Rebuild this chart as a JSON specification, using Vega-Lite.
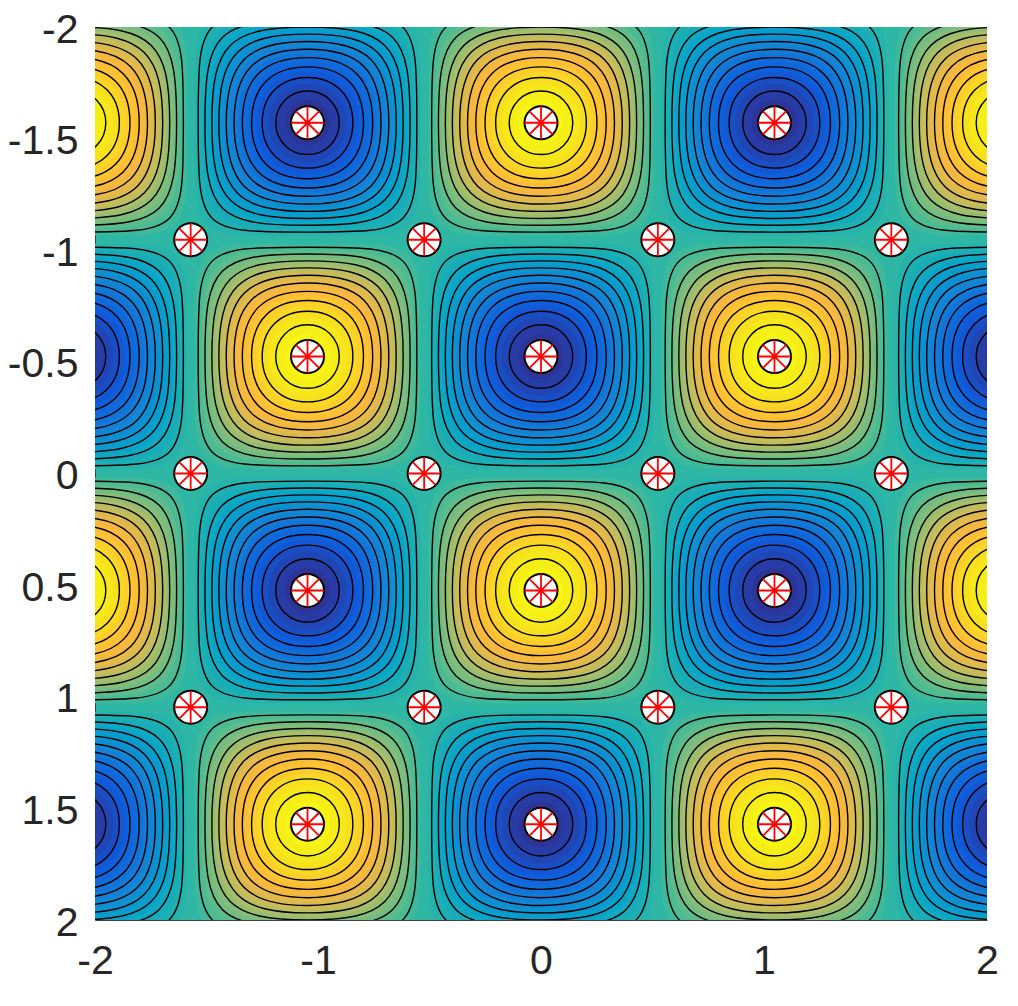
{"$schema":"https://vega.github.io/schema/vega-lite/v6.json","autosize":{"type":"none"},"padding":{"left":95,"top":27,"right":31,"bottom":86},"width":892,"height":893,"background":"white","view":{"fill":"#2eb7a4","stroke":null},"datasets":{"pts":[{"x":-1.047,"y":-1.571},{"x":0,"y":-1.571},{"x":1.047,"y":-1.571},{"x":-1.047,"y":-0.524},{"x":0,"y":-0.524},{"x":1.047,"y":-0.524},{"x":-1.047,"y":0.524},{"x":0,"y":0.524},{"x":1.047,"y":0.524},{"x":-1.047,"y":1.571},{"x":0,"y":1.571},{"x":1.047,"y":1.571},{"x":-1.571,"y":-1.047},{"x":-0.524,"y":-1.047},{"x":0.524,"y":-1.047},{"x":1.571,"y":-1.047},{"x":-1.571,"y":0},{"x":-0.524,"y":0},{"x":0.524,"y":0},{"x":1.571,"y":0},{"x":-1.571,"y":1.047},{"x":-0.524,"y":1.047},{"x":0.524,"y":1.047},{"x":1.571,"y":1.047}]},"data":{"values":[
{"x":-2.094,"y":-1.571,"z":0.055,"l":0.055},{"x":-2.094,"y":-1.571,"z":0.1,"l":0.1},{"x":-2.094,"y":-1.571,"z":0.145,"l":0.145},{"x":-2.094,"y":-1.571,"z":0.19,"l":0.19},{"x":-2.094,"y":-1.571,"z":0.235,"l":0.235},{"x":-2.094,"y":-1.571,"z":0.28,"l":0.28},{"x":-2.094,"y":-1.571,"z":0.325,"l":0.325},{"x":-2.094,"y":-1.571,"z":0.37,"l":0.37},{"x":-2.094,"y":-1.571,"z":0.415,"l":0.415},{"x":-2.094,"y":-1.571,"z":0.46,"l":0.46},{"x":-2.094,"y":-1.571,"z":0.505,"l":0.505},{"x":-2.094,"y":-1.571,"z":0.55,"l":0.55},{"x":-2.094,"y":-1.571,"z":0.595,"l":0.595},{"x":-2.094,"y":-1.571,"z":0.64,"l":0.64},{"x":-2.094,"y":-1.571,"z":0.685,"l":0.685},{"x":-2.094,"y":-1.571,"z":0.73,"l":0.73},{"x":-2.094,"y":-1.571,"z":0.775,"l":0.775},{"x":-2.094,"y":-1.571,"z":0.82,"l":0.82},{"x":-2.094,"y":-1.571,"z":0.865,"l":0.865},{"x":-2.094,"y":-1.571,"z":0.91,"l":0.91},{"x":-2.094,"y":-1.571,"z":0.955,"l":0.955},
{"x":-1.047,"y":-1.571,"z":-0.055,"l":0.055},{"x":-1.047,"y":-1.571,"z":-0.1,"l":0.1},{"x":-1.047,"y":-1.571,"z":-0.145,"l":0.145},{"x":-1.047,"y":-1.571,"z":-0.19,"l":0.19},{"x":-1.047,"y":-1.571,"z":-0.235,"l":0.235},{"x":-1.047,"y":-1.571,"z":-0.28,"l":0.28},{"x":-1.047,"y":-1.571,"z":-0.325,"l":0.325},{"x":-1.047,"y":-1.571,"z":-0.37,"l":0.37},{"x":-1.047,"y":-1.571,"z":-0.415,"l":0.415},{"x":-1.047,"y":-1.571,"z":-0.46,"l":0.46},{"x":-1.047,"y":-1.571,"z":-0.505,"l":0.505},{"x":-1.047,"y":-1.571,"z":-0.55,"l":0.55},{"x":-1.047,"y":-1.571,"z":-0.595,"l":0.595},{"x":-1.047,"y":-1.571,"z":-0.64,"l":0.64},{"x":-1.047,"y":-1.571,"z":-0.685,"l":0.685},{"x":-1.047,"y":-1.571,"z":-0.73,"l":0.73},{"x":-1.047,"y":-1.571,"z":-0.775,"l":0.775},{"x":-1.047,"y":-1.571,"z":-0.82,"l":0.82},{"x":-1.047,"y":-1.571,"z":-0.865,"l":0.865},{"x":-1.047,"y":-1.571,"z":-0.91,"l":0.91},{"x":-1.047,"y":-1.571,"z":-0.955,"l":0.955},
{"x":0,"y":-1.571,"z":0.055,"l":0.055},{"x":0,"y":-1.571,"z":0.1,"l":0.1},{"x":0,"y":-1.571,"z":0.145,"l":0.145},{"x":0,"y":-1.571,"z":0.19,"l":0.19},{"x":0,"y":-1.571,"z":0.235,"l":0.235},{"x":0,"y":-1.571,"z":0.28,"l":0.28},{"x":0,"y":-1.571,"z":0.325,"l":0.325},{"x":0,"y":-1.571,"z":0.37,"l":0.37},{"x":0,"y":-1.571,"z":0.415,"l":0.415},{"x":0,"y":-1.571,"z":0.46,"l":0.46},{"x":0,"y":-1.571,"z":0.505,"l":0.505},{"x":0,"y":-1.571,"z":0.55,"l":0.55},{"x":0,"y":-1.571,"z":0.595,"l":0.595},{"x":0,"y":-1.571,"z":0.64,"l":0.64},{"x":0,"y":-1.571,"z":0.685,"l":0.685},{"x":0,"y":-1.571,"z":0.73,"l":0.73},{"x":0,"y":-1.571,"z":0.775,"l":0.775},{"x":0,"y":-1.571,"z":0.82,"l":0.82},{"x":0,"y":-1.571,"z":0.865,"l":0.865},{"x":0,"y":-1.571,"z":0.91,"l":0.91},{"x":0,"y":-1.571,"z":0.955,"l":0.955},
{"x":1.047,"y":-1.571,"z":-0.055,"l":0.055},{"x":1.047,"y":-1.571,"z":-0.1,"l":0.1},{"x":1.047,"y":-1.571,"z":-0.145,"l":0.145},{"x":1.047,"y":-1.571,"z":-0.19,"l":0.19},{"x":1.047,"y":-1.571,"z":-0.235,"l":0.235},{"x":1.047,"y":-1.571,"z":-0.28,"l":0.28},{"x":1.047,"y":-1.571,"z":-0.325,"l":0.325},{"x":1.047,"y":-1.571,"z":-0.37,"l":0.37},{"x":1.047,"y":-1.571,"z":-0.415,"l":0.415},{"x":1.047,"y":-1.571,"z":-0.46,"l":0.46},{"x":1.047,"y":-1.571,"z":-0.505,"l":0.505},{"x":1.047,"y":-1.571,"z":-0.55,"l":0.55},{"x":1.047,"y":-1.571,"z":-0.595,"l":0.595},{"x":1.047,"y":-1.571,"z":-0.64,"l":0.64},{"x":1.047,"y":-1.571,"z":-0.685,"l":0.685},{"x":1.047,"y":-1.571,"z":-0.73,"l":0.73},{"x":1.047,"y":-1.571,"z":-0.775,"l":0.775},{"x":1.047,"y":-1.571,"z":-0.82,"l":0.82},{"x":1.047,"y":-1.571,"z":-0.865,"l":0.865},{"x":1.047,"y":-1.571,"z":-0.91,"l":0.91},{"x":1.047,"y":-1.571,"z":-0.955,"l":0.955},
{"x":2.094,"y":-1.571,"z":0.055,"l":0.055},{"x":2.094,"y":-1.571,"z":0.1,"l":0.1},{"x":2.094,"y":-1.571,"z":0.145,"l":0.145},{"x":2.094,"y":-1.571,"z":0.19,"l":0.19},{"x":2.094,"y":-1.571,"z":0.235,"l":0.235},{"x":2.094,"y":-1.571,"z":0.28,"l":0.28},{"x":2.094,"y":-1.571,"z":0.325,"l":0.325},{"x":2.094,"y":-1.571,"z":0.37,"l":0.37},{"x":2.094,"y":-1.571,"z":0.415,"l":0.415},{"x":2.094,"y":-1.571,"z":0.46,"l":0.46},{"x":2.094,"y":-1.571,"z":0.505,"l":0.505},{"x":2.094,"y":-1.571,"z":0.55,"l":0.55},{"x":2.094,"y":-1.571,"z":0.595,"l":0.595},{"x":2.094,"y":-1.571,"z":0.64,"l":0.64},{"x":2.094,"y":-1.571,"z":0.685,"l":0.685},{"x":2.094,"y":-1.571,"z":0.73,"l":0.73},{"x":2.094,"y":-1.571,"z":0.775,"l":0.775},{"x":2.094,"y":-1.571,"z":0.82,"l":0.82},{"x":2.094,"y":-1.571,"z":0.865,"l":0.865},{"x":2.094,"y":-1.571,"z":0.91,"l":0.91},{"x":2.094,"y":-1.571,"z":0.955,"l":0.955},
{"x":-2.094,"y":-0.524,"z":-0.055,"l":0.055},{"x":-2.094,"y":-0.524,"z":-0.1,"l":0.1},{"x":-2.094,"y":-0.524,"z":-0.145,"l":0.145},{"x":-2.094,"y":-0.524,"z":-0.19,"l":0.19},{"x":-2.094,"y":-0.524,"z":-0.235,"l":0.235},{"x":-2.094,"y":-0.524,"z":-0.28,"l":0.28},{"x":-2.094,"y":-0.524,"z":-0.325,"l":0.325},{"x":-2.094,"y":-0.524,"z":-0.37,"l":0.37},{"x":-2.094,"y":-0.524,"z":-0.415,"l":0.415},{"x":-2.094,"y":-0.524,"z":-0.46,"l":0.46},{"x":-2.094,"y":-0.524,"z":-0.505,"l":0.505},{"x":-2.094,"y":-0.524,"z":-0.55,"l":0.55},{"x":-2.094,"y":-0.524,"z":-0.595,"l":0.595},{"x":-2.094,"y":-0.524,"z":-0.64,"l":0.64},{"x":-2.094,"y":-0.524,"z":-0.685,"l":0.685},{"x":-2.094,"y":-0.524,"z":-0.73,"l":0.73},{"x":-2.094,"y":-0.524,"z":-0.775,"l":0.775},{"x":-2.094,"y":-0.524,"z":-0.82,"l":0.82},{"x":-2.094,"y":-0.524,"z":-0.865,"l":0.865},{"x":-2.094,"y":-0.524,"z":-0.91,"l":0.91},{"x":-2.094,"y":-0.524,"z":-0.955,"l":0.955},
{"x":-1.047,"y":-0.524,"z":0.055,"l":0.055},{"x":-1.047,"y":-0.524,"z":0.1,"l":0.1},{"x":-1.047,"y":-0.524,"z":0.145,"l":0.145},{"x":-1.047,"y":-0.524,"z":0.19,"l":0.19},{"x":-1.047,"y":-0.524,"z":0.235,"l":0.235},{"x":-1.047,"y":-0.524,"z":0.28,"l":0.28},{"x":-1.047,"y":-0.524,"z":0.325,"l":0.325},{"x":-1.047,"y":-0.524,"z":0.37,"l":0.37},{"x":-1.047,"y":-0.524,"z":0.415,"l":0.415},{"x":-1.047,"y":-0.524,"z":0.46,"l":0.46},{"x":-1.047,"y":-0.524,"z":0.505,"l":0.505},{"x":-1.047,"y":-0.524,"z":0.55,"l":0.55},{"x":-1.047,"y":-0.524,"z":0.595,"l":0.595},{"x":-1.047,"y":-0.524,"z":0.64,"l":0.64},{"x":-1.047,"y":-0.524,"z":0.685,"l":0.685},{"x":-1.047,"y":-0.524,"z":0.73,"l":0.73},{"x":-1.047,"y":-0.524,"z":0.775,"l":0.775},{"x":-1.047,"y":-0.524,"z":0.82,"l":0.82},{"x":-1.047,"y":-0.524,"z":0.865,"l":0.865},{"x":-1.047,"y":-0.524,"z":0.91,"l":0.91},{"x":-1.047,"y":-0.524,"z":0.955,"l":0.955},
{"x":0,"y":-0.524,"z":-0.055,"l":0.055},{"x":0,"y":-0.524,"z":-0.1,"l":0.1},{"x":0,"y":-0.524,"z":-0.145,"l":0.145},{"x":0,"y":-0.524,"z":-0.19,"l":0.19},{"x":0,"y":-0.524,"z":-0.235,"l":0.235},{"x":0,"y":-0.524,"z":-0.28,"l":0.28},{"x":0,"y":-0.524,"z":-0.325,"l":0.325},{"x":0,"y":-0.524,"z":-0.37,"l":0.37},{"x":0,"y":-0.524,"z":-0.415,"l":0.415},{"x":0,"y":-0.524,"z":-0.46,"l":0.46},{"x":0,"y":-0.524,"z":-0.505,"l":0.505},{"x":0,"y":-0.524,"z":-0.55,"l":0.55},{"x":0,"y":-0.524,"z":-0.595,"l":0.595},{"x":0,"y":-0.524,"z":-0.64,"l":0.64},{"x":0,"y":-0.524,"z":-0.685,"l":0.685},{"x":0,"y":-0.524,"z":-0.73,"l":0.73},{"x":0,"y":-0.524,"z":-0.775,"l":0.775},{"x":0,"y":-0.524,"z":-0.82,"l":0.82},{"x":0,"y":-0.524,"z":-0.865,"l":0.865},{"x":0,"y":-0.524,"z":-0.91,"l":0.91},{"x":0,"y":-0.524,"z":-0.955,"l":0.955},
{"x":1.047,"y":-0.524,"z":0.055,"l":0.055},{"x":1.047,"y":-0.524,"z":0.1,"l":0.1},{"x":1.047,"y":-0.524,"z":0.145,"l":0.145},{"x":1.047,"y":-0.524,"z":0.19,"l":0.19},{"x":1.047,"y":-0.524,"z":0.235,"l":0.235},{"x":1.047,"y":-0.524,"z":0.28,"l":0.28},{"x":1.047,"y":-0.524,"z":0.325,"l":0.325},{"x":1.047,"y":-0.524,"z":0.37,"l":0.37},{"x":1.047,"y":-0.524,"z":0.415,"l":0.415},{"x":1.047,"y":-0.524,"z":0.46,"l":0.46},{"x":1.047,"y":-0.524,"z":0.505,"l":0.505},{"x":1.047,"y":-0.524,"z":0.55,"l":0.55},{"x":1.047,"y":-0.524,"z":0.595,"l":0.595},{"x":1.047,"y":-0.524,"z":0.64,"l":0.64},{"x":1.047,"y":-0.524,"z":0.685,"l":0.685},{"x":1.047,"y":-0.524,"z":0.73,"l":0.73},{"x":1.047,"y":-0.524,"z":0.775,"l":0.775},{"x":1.047,"y":-0.524,"z":0.82,"l":0.82},{"x":1.047,"y":-0.524,"z":0.865,"l":0.865},{"x":1.047,"y":-0.524,"z":0.91,"l":0.91},{"x":1.047,"y":-0.524,"z":0.955,"l":0.955},
{"x":2.094,"y":-0.524,"z":-0.055,"l":0.055},{"x":2.094,"y":-0.524,"z":-0.1,"l":0.1},{"x":2.094,"y":-0.524,"z":-0.145,"l":0.145},{"x":2.094,"y":-0.524,"z":-0.19,"l":0.19},{"x":2.094,"y":-0.524,"z":-0.235,"l":0.235},{"x":2.094,"y":-0.524,"z":-0.28,"l":0.28},{"x":2.094,"y":-0.524,"z":-0.325,"l":0.325},{"x":2.094,"y":-0.524,"z":-0.37,"l":0.37},{"x":2.094,"y":-0.524,"z":-0.415,"l":0.415},{"x":2.094,"y":-0.524,"z":-0.46,"l":0.46},{"x":2.094,"y":-0.524,"z":-0.505,"l":0.505},{"x":2.094,"y":-0.524,"z":-0.55,"l":0.55},{"x":2.094,"y":-0.524,"z":-0.595,"l":0.595},{"x":2.094,"y":-0.524,"z":-0.64,"l":0.64},{"x":2.094,"y":-0.524,"z":-0.685,"l":0.685},{"x":2.094,"y":-0.524,"z":-0.73,"l":0.73},{"x":2.094,"y":-0.524,"z":-0.775,"l":0.775},{"x":2.094,"y":-0.524,"z":-0.82,"l":0.82},{"x":2.094,"y":-0.524,"z":-0.865,"l":0.865},{"x":2.094,"y":-0.524,"z":-0.91,"l":0.91},{"x":2.094,"y":-0.524,"z":-0.955,"l":0.955},
{"x":-2.094,"y":0.524,"z":0.055,"l":0.055},{"x":-2.094,"y":0.524,"z":0.1,"l":0.1},{"x":-2.094,"y":0.524,"z":0.145,"l":0.145},{"x":-2.094,"y":0.524,"z":0.19,"l":0.19},{"x":-2.094,"y":0.524,"z":0.235,"l":0.235},{"x":-2.094,"y":0.524,"z":0.28,"l":0.28},{"x":-2.094,"y":0.524,"z":0.325,"l":0.325},{"x":-2.094,"y":0.524,"z":0.37,"l":0.37},{"x":-2.094,"y":0.524,"z":0.415,"l":0.415},{"x":-2.094,"y":0.524,"z":0.46,"l":0.46},{"x":-2.094,"y":0.524,"z":0.505,"l":0.505},{"x":-2.094,"y":0.524,"z":0.55,"l":0.55},{"x":-2.094,"y":0.524,"z":0.595,"l":0.595},{"x":-2.094,"y":0.524,"z":0.64,"l":0.64},{"x":-2.094,"y":0.524,"z":0.685,"l":0.685},{"x":-2.094,"y":0.524,"z":0.73,"l":0.73},{"x":-2.094,"y":0.524,"z":0.775,"l":0.775},{"x":-2.094,"y":0.524,"z":0.82,"l":0.82},{"x":-2.094,"y":0.524,"z":0.865,"l":0.865},{"x":-2.094,"y":0.524,"z":0.91,"l":0.91},{"x":-2.094,"y":0.524,"z":0.955,"l":0.955},
{"x":-1.047,"y":0.524,"z":-0.055,"l":0.055},{"x":-1.047,"y":0.524,"z":-0.1,"l":0.1},{"x":-1.047,"y":0.524,"z":-0.145,"l":0.145},{"x":-1.047,"y":0.524,"z":-0.19,"l":0.19},{"x":-1.047,"y":0.524,"z":-0.235,"l":0.235},{"x":-1.047,"y":0.524,"z":-0.28,"l":0.28},{"x":-1.047,"y":0.524,"z":-0.325,"l":0.325},{"x":-1.047,"y":0.524,"z":-0.37,"l":0.37},{"x":-1.047,"y":0.524,"z":-0.415,"l":0.415},{"x":-1.047,"y":0.524,"z":-0.46,"l":0.46},{"x":-1.047,"y":0.524,"z":-0.505,"l":0.505},{"x":-1.047,"y":0.524,"z":-0.55,"l":0.55},{"x":-1.047,"y":0.524,"z":-0.595,"l":0.595},{"x":-1.047,"y":0.524,"z":-0.64,"l":0.64},{"x":-1.047,"y":0.524,"z":-0.685,"l":0.685},{"x":-1.047,"y":0.524,"z":-0.73,"l":0.73},{"x":-1.047,"y":0.524,"z":-0.775,"l":0.775},{"x":-1.047,"y":0.524,"z":-0.82,"l":0.82},{"x":-1.047,"y":0.524,"z":-0.865,"l":0.865},{"x":-1.047,"y":0.524,"z":-0.91,"l":0.91},{"x":-1.047,"y":0.524,"z":-0.955,"l":0.955},
{"x":0,"y":0.524,"z":0.055,"l":0.055},{"x":0,"y":0.524,"z":0.1,"l":0.1},{"x":0,"y":0.524,"z":0.145,"l":0.145},{"x":0,"y":0.524,"z":0.19,"l":0.19},{"x":0,"y":0.524,"z":0.235,"l":0.235},{"x":0,"y":0.524,"z":0.28,"l":0.28},{"x":0,"y":0.524,"z":0.325,"l":0.325},{"x":0,"y":0.524,"z":0.37,"l":0.37},{"x":0,"y":0.524,"z":0.415,"l":0.415},{"x":0,"y":0.524,"z":0.46,"l":0.46},{"x":0,"y":0.524,"z":0.505,"l":0.505},{"x":0,"y":0.524,"z":0.55,"l":0.55},{"x":0,"y":0.524,"z":0.595,"l":0.595},{"x":0,"y":0.524,"z":0.64,"l":0.64},{"x":0,"y":0.524,"z":0.685,"l":0.685},{"x":0,"y":0.524,"z":0.73,"l":0.73},{"x":0,"y":0.524,"z":0.775,"l":0.775},{"x":0,"y":0.524,"z":0.82,"l":0.82},{"x":0,"y":0.524,"z":0.865,"l":0.865},{"x":0,"y":0.524,"z":0.91,"l":0.91},{"x":0,"y":0.524,"z":0.955,"l":0.955},
{"x":1.047,"y":0.524,"z":-0.055,"l":0.055},{"x":1.047,"y":0.524,"z":-0.1,"l":0.1},{"x":1.047,"y":0.524,"z":-0.145,"l":0.145},{"x":1.047,"y":0.524,"z":-0.19,"l":0.19},{"x":1.047,"y":0.524,"z":-0.235,"l":0.235},{"x":1.047,"y":0.524,"z":-0.28,"l":0.28},{"x":1.047,"y":0.524,"z":-0.325,"l":0.325},{"x":1.047,"y":0.524,"z":-0.37,"l":0.37},{"x":1.047,"y":0.524,"z":-0.415,"l":0.415},{"x":1.047,"y":0.524,"z":-0.46,"l":0.46},{"x":1.047,"y":0.524,"z":-0.505,"l":0.505},{"x":1.047,"y":0.524,"z":-0.55,"l":0.55},{"x":1.047,"y":0.524,"z":-0.595,"l":0.595},{"x":1.047,"y":0.524,"z":-0.64,"l":0.64},{"x":1.047,"y":0.524,"z":-0.685,"l":0.685},{"x":1.047,"y":0.524,"z":-0.73,"l":0.73},{"x":1.047,"y":0.524,"z":-0.775,"l":0.775},{"x":1.047,"y":0.524,"z":-0.82,"l":0.82},{"x":1.047,"y":0.524,"z":-0.865,"l":0.865},{"x":1.047,"y":0.524,"z":-0.91,"l":0.91},{"x":1.047,"y":0.524,"z":-0.955,"l":0.955},
{"x":2.094,"y":0.524,"z":0.055,"l":0.055},{"x":2.094,"y":0.524,"z":0.1,"l":0.1},{"x":2.094,"y":0.524,"z":0.145,"l":0.145},{"x":2.094,"y":0.524,"z":0.19,"l":0.19},{"x":2.094,"y":0.524,"z":0.235,"l":0.235},{"x":2.094,"y":0.524,"z":0.28,"l":0.28},{"x":2.094,"y":0.524,"z":0.325,"l":0.325},{"x":2.094,"y":0.524,"z":0.37,"l":0.37},{"x":2.094,"y":0.524,"z":0.415,"l":0.415},{"x":2.094,"y":0.524,"z":0.46,"l":0.46},{"x":2.094,"y":0.524,"z":0.505,"l":0.505},{"x":2.094,"y":0.524,"z":0.55,"l":0.55},{"x":2.094,"y":0.524,"z":0.595,"l":0.595},{"x":2.094,"y":0.524,"z":0.64,"l":0.64},{"x":2.094,"y":0.524,"z":0.685,"l":0.685},{"x":2.094,"y":0.524,"z":0.73,"l":0.73},{"x":2.094,"y":0.524,"z":0.775,"l":0.775},{"x":2.094,"y":0.524,"z":0.82,"l":0.82},{"x":2.094,"y":0.524,"z":0.865,"l":0.865},{"x":2.094,"y":0.524,"z":0.91,"l":0.91},{"x":2.094,"y":0.524,"z":0.955,"l":0.955},
{"x":-2.094,"y":1.571,"z":-0.055,"l":0.055},{"x":-2.094,"y":1.571,"z":-0.1,"l":0.1},{"x":-2.094,"y":1.571,"z":-0.145,"l":0.145},{"x":-2.094,"y":1.571,"z":-0.19,"l":0.19},{"x":-2.094,"y":1.571,"z":-0.235,"l":0.235},{"x":-2.094,"y":1.571,"z":-0.28,"l":0.28},{"x":-2.094,"y":1.571,"z":-0.325,"l":0.325},{"x":-2.094,"y":1.571,"z":-0.37,"l":0.37},{"x":-2.094,"y":1.571,"z":-0.415,"l":0.415},{"x":-2.094,"y":1.571,"z":-0.46,"l":0.46},{"x":-2.094,"y":1.571,"z":-0.505,"l":0.505},{"x":-2.094,"y":1.571,"z":-0.55,"l":0.55},{"x":-2.094,"y":1.571,"z":-0.595,"l":0.595},{"x":-2.094,"y":1.571,"z":-0.64,"l":0.64},{"x":-2.094,"y":1.571,"z":-0.685,"l":0.685},{"x":-2.094,"y":1.571,"z":-0.73,"l":0.73},{"x":-2.094,"y":1.571,"z":-0.775,"l":0.775},{"x":-2.094,"y":1.571,"z":-0.82,"l":0.82},{"x":-2.094,"y":1.571,"z":-0.865,"l":0.865},{"x":-2.094,"y":1.571,"z":-0.91,"l":0.91},{"x":-2.094,"y":1.571,"z":-0.955,"l":0.955},
{"x":-1.047,"y":1.571,"z":0.055,"l":0.055},{"x":-1.047,"y":1.571,"z":0.1,"l":0.1},{"x":-1.047,"y":1.571,"z":0.145,"l":0.145},{"x":-1.047,"y":1.571,"z":0.19,"l":0.19},{"x":-1.047,"y":1.571,"z":0.235,"l":0.235},{"x":-1.047,"y":1.571,"z":0.28,"l":0.28},{"x":-1.047,"y":1.571,"z":0.325,"l":0.325},{"x":-1.047,"y":1.571,"z":0.37,"l":0.37},{"x":-1.047,"y":1.571,"z":0.415,"l":0.415},{"x":-1.047,"y":1.571,"z":0.46,"l":0.46},{"x":-1.047,"y":1.571,"z":0.505,"l":0.505},{"x":-1.047,"y":1.571,"z":0.55,"l":0.55},{"x":-1.047,"y":1.571,"z":0.595,"l":0.595},{"x":-1.047,"y":1.571,"z":0.64,"l":0.64},{"x":-1.047,"y":1.571,"z":0.685,"l":0.685},{"x":-1.047,"y":1.571,"z":0.73,"l":0.73},{"x":-1.047,"y":1.571,"z":0.775,"l":0.775},{"x":-1.047,"y":1.571,"z":0.82,"l":0.82},{"x":-1.047,"y":1.571,"z":0.865,"l":0.865},{"x":-1.047,"y":1.571,"z":0.91,"l":0.91},{"x":-1.047,"y":1.571,"z":0.955,"l":0.955},
{"x":0,"y":1.571,"z":-0.055,"l":0.055},{"x":0,"y":1.571,"z":-0.1,"l":0.1},{"x":0,"y":1.571,"z":-0.145,"l":0.145},{"x":0,"y":1.571,"z":-0.19,"l":0.19},{"x":0,"y":1.571,"z":-0.235,"l":0.235},{"x":0,"y":1.571,"z":-0.28,"l":0.28},{"x":0,"y":1.571,"z":-0.325,"l":0.325},{"x":0,"y":1.571,"z":-0.37,"l":0.37},{"x":0,"y":1.571,"z":-0.415,"l":0.415},{"x":0,"y":1.571,"z":-0.46,"l":0.46},{"x":0,"y":1.571,"z":-0.505,"l":0.505},{"x":0,"y":1.571,"z":-0.55,"l":0.55},{"x":0,"y":1.571,"z":-0.595,"l":0.595},{"x":0,"y":1.571,"z":-0.64,"l":0.64},{"x":0,"y":1.571,"z":-0.685,"l":0.685},{"x":0,"y":1.571,"z":-0.73,"l":0.73},{"x":0,"y":1.571,"z":-0.775,"l":0.775},{"x":0,"y":1.571,"z":-0.82,"l":0.82},{"x":0,"y":1.571,"z":-0.865,"l":0.865},{"x":0,"y":1.571,"z":-0.91,"l":0.91},{"x":0,"y":1.571,"z":-0.955,"l":0.955},
{"x":1.047,"y":1.571,"z":0.055,"l":0.055},{"x":1.047,"y":1.571,"z":0.1,"l":0.1},{"x":1.047,"y":1.571,"z":0.145,"l":0.145},{"x":1.047,"y":1.571,"z":0.19,"l":0.19},{"x":1.047,"y":1.571,"z":0.235,"l":0.235},{"x":1.047,"y":1.571,"z":0.28,"l":0.28},{"x":1.047,"y":1.571,"z":0.325,"l":0.325},{"x":1.047,"y":1.571,"z":0.37,"l":0.37},{"x":1.047,"y":1.571,"z":0.415,"l":0.415},{"x":1.047,"y":1.571,"z":0.46,"l":0.46},{"x":1.047,"y":1.571,"z":0.505,"l":0.505},{"x":1.047,"y":1.571,"z":0.55,"l":0.55},{"x":1.047,"y":1.571,"z":0.595,"l":0.595},{"x":1.047,"y":1.571,"z":0.64,"l":0.64},{"x":1.047,"y":1.571,"z":0.685,"l":0.685},{"x":1.047,"y":1.571,"z":0.73,"l":0.73},{"x":1.047,"y":1.571,"z":0.775,"l":0.775},{"x":1.047,"y":1.571,"z":0.82,"l":0.82},{"x":1.047,"y":1.571,"z":0.865,"l":0.865},{"x":1.047,"y":1.571,"z":0.91,"l":0.91},{"x":1.047,"y":1.571,"z":0.955,"l":0.955},
{"x":2.094,"y":1.571,"z":-0.055,"l":0.055},{"x":2.094,"y":1.571,"z":-0.1,"l":0.1},{"x":2.094,"y":1.571,"z":-0.145,"l":0.145},{"x":2.094,"y":1.571,"z":-0.19,"l":0.19},{"x":2.094,"y":1.571,"z":-0.235,"l":0.235},{"x":2.094,"y":1.571,"z":-0.28,"l":0.28},{"x":2.094,"y":1.571,"z":-0.325,"l":0.325},{"x":2.094,"y":1.571,"z":-0.37,"l":0.37},{"x":2.094,"y":1.571,"z":-0.415,"l":0.415},{"x":2.094,"y":1.571,"z":-0.46,"l":0.46},{"x":2.094,"y":1.571,"z":-0.505,"l":0.505},{"x":2.094,"y":1.571,"z":-0.55,"l":0.55},{"x":2.094,"y":1.571,"z":-0.595,"l":0.595},{"x":2.094,"y":1.571,"z":-0.64,"l":0.64},{"x":2.094,"y":1.571,"z":-0.685,"l":0.685},{"x":2.094,"y":1.571,"z":-0.73,"l":0.73},{"x":2.094,"y":1.571,"z":-0.775,"l":0.775},{"x":2.094,"y":1.571,"z":-0.82,"l":0.82},{"x":2.094,"y":1.571,"z":-0.865,"l":0.865},{"x":2.094,"y":1.571,"z":-0.91,"l":0.91},{"x":2.094,"y":1.571,"z":-0.955,"l":0.955}
]},"encoding":{"x":{"field":"x","type":"quantitative","title":null,"scale":{"domain":[-2,2],"nice":false,"zero":false},"axis":{"orient":"bottom","values":[-2,-1,0,1,2],"grid":false,"ticks":false,"domain":true,"domainColor":"#404040","domainWidth":1,"labelFont":"Liberation Sans","labelFontSize":41,"labelColor":"#262626","labelPadding":21,"labelExpr":"''+datum.value","labelFlush":false,"labelOverlap":false,"labelBound":false}},"y":{"field":"y","type":"quantitative","title":null,"scale":{"domain":[-2,2],"reverse":true,"nice":false,"zero":false},"axis":{"orient":"left","values":[-2,-1.5,-1,-0.5,0,0.5,1,1.5,2],"grid":false,"ticks":false,"domain":true,"domainColor":"#404040","domainWidth":1,"labelFont":"Liberation Sans","labelFontSize":41,"labelColor":"#262626","labelPadding":17,"labelOffset":3,"labelExpr":"''+datum.value","labelFlush":false,"labelOverlap":false,"labelBound":false}},"shape":{"field":"l","type":"ordinal","legend":null,"scale":{"domain":[0.055,0.1,0.145,0.19,0.235,0.28,0.325,0.37,0.415,0.46,0.505,0.55,0.595,0.64,0.685,0.73,0.775,0.82,0.865,0.91,0.955],"range":[
"M.965 0C.965 1.03 1.03 .965 0 .965C-1.03 .965 -.965 1.03 -.965 0C-.965 -1.03 -1.03 -.965 0 -.965C1.03 -.965 .965 -1.03 .965 0Z",
"M.936 0C.936 .93 .93 .936 0 .936C-.93 .936 -.936 .93 -.936 0C-.936 -.93 -.93 -.936 0 -.936C.93 -.936 .936 -.93 .936 0Z",
"M.907 0C.907 .845 .845 .907 0 .907C-.845 .907 -.907 .845 -.907 0C-.907 -.845 -.845 -.907 0 -.907C.845 -.907 .907 -.845 .907 0Z",
"M.878 0C.878 .775 .775 .878 0 .878C-.775 .878 -.878 .775 -.878 0C-.878 -.775 -.775 -.878 0 -.878C.775 -.878 .878 -.775 .878 0Z",
"M.849 0C.849 .72 .72 .849 0 .849C-.72 .849 -.849 .72 -.849 0C-.849 -.72 -.72 -.849 0 -.849C.72 -.849 .849 -.72 .849 0Z",
"M.819 0C.819 .672 .672 .819 0 .819C-.672 .819 -.819 .672 -.819 0C-.819 -.672 -.672 -.819 0 -.819C.672 -.819 .819 -.672 .819 0Z",
"M.789 0C.789 .63 .63 .789 0 .789C-.63 .789 -.789 .63 -.789 0C-.789 -.63 -.63 -.789 0 -.789C.63 -.789 .789 -.63 .789 0Z",
"M.759 0C.759 .59 .59 .759 0 .759C-.59 .759 -.759 .59 -.759 0C-.759 -.59 -.59 -.759 0 -.759C.59 -.759 .759 -.59 .759 0Z",
"M.728 0C.728 .553 .553 .728 0 .728C-.553 .728 -.728 .553 -.728 0C-.728 -.553 -.553 -.728 0 -.728C.553 -.728 .728 -.553 .728 0Z",
"M.696 0C.696 .519 .519 .696 0 .696C-.519 .696 -.696 .519 -.696 0C-.696 -.519 -.519 -.696 0 -.696C.519 -.696 .696 -.519 .696 0Z",
"M.663 0C.663 .482 .482 .663 0 .663C-.482 .663 -.663 .482 -.663 0C-.663 -.482 -.482 -.663 0 -.663C.482 -.663 .663 -.482 .663 0Z",
"M.629 0C.629 .448 .448 .629 0 .629C-.448 .629 -.629 .448 -.629 0C-.629 -.448 -.448 -.629 0 -.629C.448 -.629 .629 -.448 .629 0Z",
"M.594 0C.594 .414 .414 .594 0 .594C-.414 .594 -.594 .414 -.594 0C-.594 -.414 -.414 -.594 0 -.594C.414 -.594 .594 -.414 .594 0Z",
"M.558 0C.558 .378 .378 .558 0 .558C-.378 .558 -.558 .378 -.558 0C-.558 -.378 -.378 -.558 0 -.558C.378 -.558 .558 -.378 .558 0Z",
"M.520 0C.520 .343 .343 .520 0 .520C-.343 .520 -.520 .343 -.520 0C-.520 -.343 -.343 -.520 0 -.520C.343 -.520 .520 -.343 .520 0Z",
"M.479 0C.479 .308 .308 .479 0 .479C-.308 .479 -.479 .308 -.479 0C-.479 -.308 -.308 -.479 0 -.479C.308 -.479 .479 -.308 .479 0Z",
"M.436 0C.436 .272 .272 .436 0 .436C-.272 .436 -.436 .272 -.436 0C-.436 -.272 -.272 -.436 0 -.436C.272 -.436 .436 -.272 .436 0Z",
"M.388 0C.388 .234 .234 .388 0 .388C-.234 .388 -.388 .234 -.388 0C-.388 -.234 -.234 -.388 0 -.388C.234 -.388 .388 -.234 .388 0Z",
"M.335 0C.335 .193 .193 .335 0 .335C-.193 .335 -.335 .193 -.335 0C-.335 -.193 -.193 -.335 0 -.335C.193 -.335 .335 -.193 .335 0Z",
"M.272 0C.272 .154 .154 .272 0 .272C-.154 .272 -.272 .154 -.272 0C-.272 -.154 -.154 -.272 0 -.272C.154 -.272 .272 -.154 .272 0Z",
"M.192 0C.192 .107 .107 .192 0 .192C-.107 .192 -.192 .107 -.192 0C-.192 -.107 -.107 -.192 0 -.192C.107 -.192 .192 -.107 .192 0Z"
]}}},"layer":[
{"mark":{"type":"point","filled":true,"opacity":1,"clip":true,"size":54567,"strokeWidth":0},"encoding":{"fill":{"field":"z","type":"quantitative","legend":null,"scale":{"domain":[-1,-0.75,-0.5,-0.25,0,0.1,0.2,0.3,0.4,0.5,0.6,0.7,0.8,0.9,1],"range":["#352a87","#0f5cdd","#1481d6","#06a4ca","#2eb7a4","#4bbb94","#75bd80","#a0bd6d","#c8bb5a","#e6b94a","#fbb93c","#fec62f","#f7dd20","#f5ee18","#f9fb0e"],"interpolate":"rgb"}}}},
{"transform":[{"filter":{"field":"l","oneOf":[0.1,0.19,0.28,0.37,0.46,0.55,0.64,0.73,0.82,0.91]}}],"mark":{"type":"point","filled":false,"opacity":1,"clip":true,"size":54567,"stroke":"black","strokeWidth":1.4}},
{"data":{"name":"pts"},"mark":{"type":"point","filled":true,"opacity":1,"fill":"white","stroke":"black","strokeWidth":2,"size":1089,"clip":true},"encoding":{"shape":{"value":"circle"}}},
{"data":{"name":"pts"},"mark":{"type":"point","filled":false,"opacity":1,"stroke":"#ff0000","strokeWidth":1.8,"size":1089,"clip":true},"encoding":{"shape":{"value":"M-1 0L1 0M0 -1L0 1M-.71 -.71L.71 .71M-.71 .71L.71 -.71"}}}
]}
